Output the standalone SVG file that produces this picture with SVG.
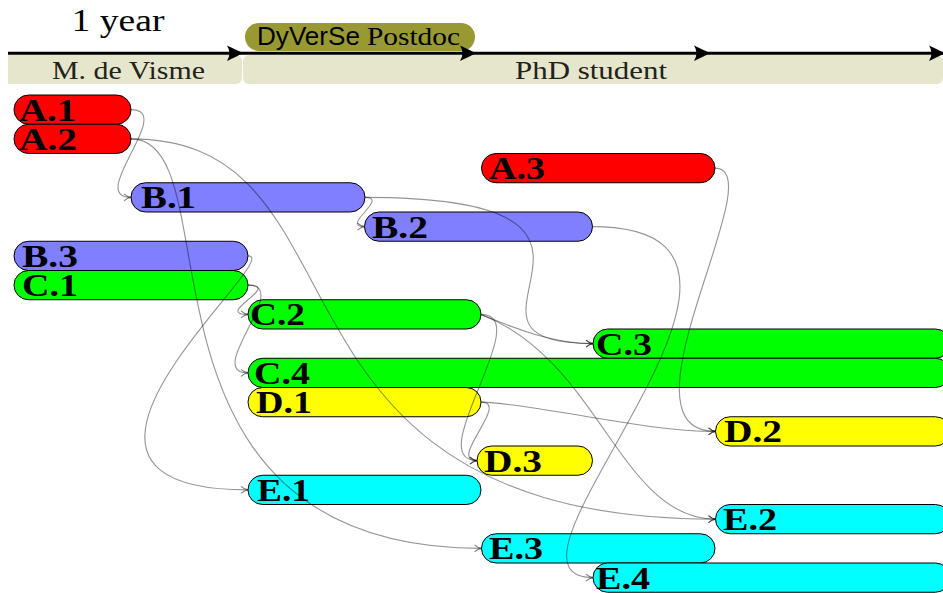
<svg xmlns="http://www.w3.org/2000/svg" width="943" height="593" viewBox="0 0 943 593">
<style>
.node{stroke:#000;stroke-width:1}
.red{fill:#FF0000}.blue{fill:#7F7FFF}.green{fill:#00FF00}.yellow{fill:#FFFF00}.cyan{fill:#00FFFF}
.lbl{font-family:"Liberation Serif","Times New Roman",serif;font-weight:bold;font-size:31px;fill:#000}
.band{fill:#E6E6CC}
.bandtxt{font-family:"Liberation Serif","Times New Roman",serif;font-size:25px;fill:#22221a}
.conn path{fill:none;stroke:#000;stroke-opacity:0.42;stroke-width:1.1;marker-end:url(#to)}
</style>
<defs>
<marker id="to" viewBox="-9 -5 10 10" refX="0" refY="0" markerWidth="10" markerHeight="10" markerUnits="userSpaceOnUse" orient="auto">
<path d="M-7,-3.5 C-4.5,-1.2 -2.2,-0.3 0,0 C-2.2,0.3 -4.5,1.2 -7,3.5" fill="none" stroke="#000" stroke-opacity="0.5" stroke-width="1.1"/>
</marker>
<path id="head" d="M0,0 Q-6,-3 -16,-7.7 Q-11,0 -16,7.7 Q-6,3 0,0 Z" fill="#000"/>
</defs>

<g id="timeline">
<text x="118" y="31" text-anchor="middle" font-family="'Liberation Serif','Times New Roman',serif" font-size="32" textLength="93" lengthAdjust="spacingAndGlyphs">1 year</text>
<path class="band" d="M8,55 H236 A6,6 0 0 1 242,61 V78 A6,6 0 0 1 236,84 H8 Z"/>
<rect class="band" x="243" y="55" width="700" height="29" rx="6"/>
<text class="bandtxt" x="128.5" y="79" text-anchor="middle" textLength="153" lengthAdjust="spacingAndGlyphs">M. de Visme</text>
<text class="bandtxt" x="591" y="79" text-anchor="middle" textLength="152" lengthAdjust="spacingAndGlyphs">PhD student</text>
<rect x="245" y="23" width="230" height="28" rx="14" fill="#999933"/>
<text y="45" font-size="25" fill="#000"><tspan x="257" font-family="'Liberation Sans',Arial,sans-serif" textLength="103" lengthAdjust="spacingAndGlyphs">DyVerSe</tspan><tspan x="367" font-family="'Liberation Serif','Times New Roman',serif" textLength="93" lengthAdjust="spacingAndGlyphs">Postdoc</tspan></text>
<line x1="8" y1="53.3" x2="943" y2="53.3" stroke="#000" stroke-width="3"/>
<use href="#head" x="243" y="53.3"/>
<use href="#head" x="476" y="53.3"/>
<use href="#head" x="710" y="53.3"/>
<use href="#head" x="945" y="53.3"/>
</g>

<g id="A1"><rect class="node red" x="14" y="95" width="117" height="29.25" rx="14.6"/><text class="lbl" x="19" y="120.5" textLength="57" lengthAdjust="spacingAndGlyphs">A.1</text></g>
<g id="A2"><rect class="node red" x="14" y="124.25" width="117" height="29.25" rx="14.6"/><text class="lbl" x="19" y="149.75" textLength="58" lengthAdjust="spacingAndGlyphs">A.2</text></g>
<g id="A3"><rect class="node red" x="481.5" y="153.5" width="233.5" height="29.25" rx="14.6"/><text class="lbl" x="489" y="179" textLength="56" lengthAdjust="spacingAndGlyphs">A.3</text></g>
<g id="B1"><rect class="node blue" x="131" y="182.75" width="234" height="29.25" rx="14.6"/><text class="lbl" x="141" y="208.25" textLength="55" lengthAdjust="spacingAndGlyphs">B.1</text></g>
<g id="B2"><rect class="node blue" x="364.5" y="212" width="228" height="29.25" rx="14.6"/><text class="lbl" x="372" y="237.5" textLength="56" lengthAdjust="spacingAndGlyphs">B.2</text></g>
<g id="B3"><rect class="node blue" x="14" y="241.25" width="234" height="29.25" rx="14.6"/><text class="lbl" x="22" y="266.75" textLength="56" lengthAdjust="spacingAndGlyphs">B.3</text></g>
<g id="C1"><rect class="node green" x="14" y="270.5" width="234" height="29.25" rx="14.6"/><text class="lbl" x="22" y="296" textLength="56" lengthAdjust="spacingAndGlyphs">C.1</text></g>
<g id="C2"><rect class="node green" x="248" y="299.75" width="233" height="29.25" rx="14.6"/><text class="lbl" x="250" y="325.25" textLength="55" lengthAdjust="spacingAndGlyphs">C.2</text></g>
<g id="C3"><rect class="node green" x="593" y="329" width="357" height="29.25" rx="14.6"/><text class="lbl" x="596" y="354.5" textLength="56" lengthAdjust="spacingAndGlyphs">C.3</text></g>
<g id="C4"><rect class="node green" x="248" y="358.25" width="702" height="29.25" rx="14.6"/><text class="lbl" x="254" y="383.75" textLength="56" lengthAdjust="spacingAndGlyphs">C.4</text></g>
<g id="D1"><rect class="node yellow" x="248" y="387.5" width="233" height="29.25" rx="14.6"/><text class="lbl" x="256" y="413" textLength="56" lengthAdjust="spacingAndGlyphs">D.1</text></g>
<g id="D2"><rect class="node yellow" x="715.5" y="416.75" width="234.5" height="29.25" rx="14.6"/><text class="lbl" x="724" y="442.25" textLength="58" lengthAdjust="spacingAndGlyphs">D.2</text></g>
<g id="D3"><rect class="node yellow" x="477" y="446" width="115.5" height="29.25" rx="14.6"/><text class="lbl" x="484" y="471.5" textLength="58" lengthAdjust="spacingAndGlyphs">D.3</text></g>
<g id="E1"><rect class="node cyan" x="248" y="475.25" width="233" height="29.25" rx="14.6"/><text class="lbl" x="257" y="500.75" textLength="53" lengthAdjust="spacingAndGlyphs">E.1</text></g>
<g id="E2"><rect class="node cyan" x="715.5" y="504.5" width="234.5" height="29.25" rx="14.6"/><text class="lbl" x="723" y="530" textLength="54" lengthAdjust="spacingAndGlyphs">E.2</text></g>
<g id="E3"><rect class="node cyan" x="481.5" y="533.75" width="233.5" height="29.25" rx="14.6"/><text class="lbl" x="489" y="559.25" textLength="54" lengthAdjust="spacingAndGlyphs">E.3</text></g>
<g id="E4"><rect class="node cyan" x="593" y="563" width="357" height="29.25" rx="14.6"/><text class="lbl" x="596" y="588.5" textLength="54" lengthAdjust="spacingAndGlyphs">E.4</text></g>

<g id="connectors" class="conn">
<path d="M131,109.6 C176,109.6 86,197.4 131,197.4"/>
<path d="M131,138.9 C381,138.9 238,519.1 715.5,519.1"/>
<path d="M131,138.9 C237,138.9 111,548.4 481.5,548.4"/>
<path d="M715,168.1 C775,168.1 610,431.4 715.5,431.4"/>
<path d="M365,197.4 C390,197.4 339.5,226.6 364.5,226.6"/>
<path d="M365,197.4 C685,197.4 415.5,343.6 593,343.6"/>
<path d="M592.5,226.6 C841,226.6 468,577.6 593,577.6"/>
<path d="M248,255.9 C288,255.9 -3,489.9 248,489.9"/>
<path d="M248,285.1 C283,285.1 213,314.4 248,314.4"/>
<path d="M248,285.1 C293,285.1 203,372.9 248,372.9"/>
<path d="M481,314.4 C510,326 550,343.6 593,343.6"/>
<path d="M481,314.4 C600,360 620,519.1 715.5,519.1"/>
<path d="M481,314.4 C537,314.4 421,460.6 477,460.6"/>
<path d="M481,402.1 C540,404 640,431.4 715.5,431.4"/>
<path d="M481,402.1 C511,402.1 447,460.6 477,460.6"/>
</g>
</svg>
